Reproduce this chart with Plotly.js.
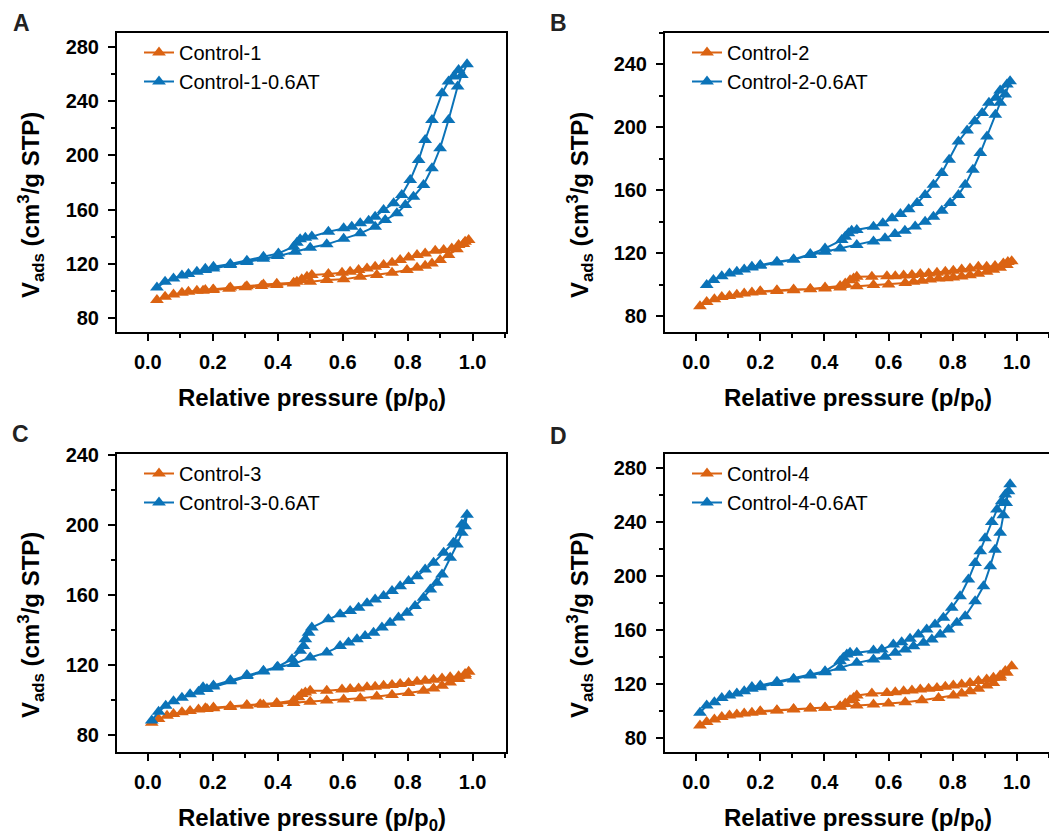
<!DOCTYPE html>
<html>
<head>
<meta charset="utf-8">
<script src="https://cdn.plot.ly/plotly-3.0.1.min.js"></script>
<style>
html,body{margin:0;padding:0;overflow:hidden;background:#fff;width:1049px;height:835px;}
#chart{width:1060px;height:835px;}
</style>
</head>
<body>
<div id="chart"></div>
<script>
// ---------- Data ----------
// Panel A
const ctrl1_p = [0.028,0.053,0.079,0.105,0.125,0.151,0.177,0.202,0.254,0.305,0.356,0.397,0.449,0.500,0.551,0.603,0.654,0.705,0.752,0.798,0.829,0.854,0.875,0.900,0.926,0.952,0.972,0.988,
  0.977,0.957,0.936,0.911,0.885,0.854,0.829,0.803,0.777,0.752,0.726,0.700,0.675,0.649,0.623,0.598,0.556,0.505,0.490,0.474,0.459,0.449,0.397,0.350,0.300,0.250,0.200,0.170];
const ctrl1_v = [93.1,95.5,97.3,98.5,99.2,100.0,100.5,101.0,102.4,103.4,104.7,105.2,105.9,106.6,107.9,108.4,110.3,111.6,113.3,115.3,117.0,118.5,120.2,122.7,126.4,130.6,134.5,137.5,
  136.2,133.8,131.3,130.1,129.6,127.6,126.4,124.6,122.7,120.7,119.0,117.7,116.5,115.3,114.0,113.3,112.3,111.6,110.3,108.4,106.6,105.4,104.2,103.5,102.5,101.5,100.5,100.0];
const ctrl1AT_p = [0.028,0.053,0.079,0.105,0.125,0.151,0.177,0.202,0.254,0.305,0.356,0.400,0.454,0.500,0.551,0.603,0.654,0.700,0.731,0.767,0.793,0.818,0.849,0.875,0.900,0.926,0.954,0.967,0.983,
  0.957,0.942,0.926,0.906,0.875,0.854,0.834,0.808,0.782,0.757,0.726,0.700,0.680,0.654,0.628,0.603,0.556,0.505,0.485,0.469,0.459,0.449,0.402,0.356,0.305,0.254,0.202,0.177];
const ctrl1AT_v = [102.4,106.6,109.1,111.3,112.3,114.0,115.3,116.5,119.0,121.2,123.6,125.6,128.8,131.8,134.3,138.4,142.4,147.3,152.3,157.2,163.4,169.5,178.2,190.5,205.3,226.2,250.9,259.5,267.4,
  263.2,258.3,254.6,246.0,226.2,211.4,196.7,181.8,170.8,164.6,159.7,154.7,151.8,149.8,147.3,146.1,143.6,140.0,139.2,138.0,135.5,132.5,127.6,125.1,122.2,119.7,117.7,116.3];

// Panel B
const ctrl2_p = [0.012,0.033,0.057,0.080,0.104,0.127,0.150,0.174,0.200,0.252,0.304,0.356,0.402,0.449,0.501,0.553,0.600,0.652,0.678,0.704,0.730,0.756,0.782,0.802,0.828,0.854,0.880,0.906,0.927,0.948,0.969,0.984,
  0.972,0.958,0.932,0.906,0.880,0.854,0.828,0.802,0.777,0.751,0.725,0.699,0.673,0.647,0.621,0.595,0.548,0.501,0.491,0.480,0.465,0.449,0.402,0.356,0.304,0.252,0.200];
const ctrl2_v = [86.4,89.1,90.8,92.3,92.9,93.6,94.4,95.1,95.5,96.1,96.6,97.2,97.6,98.3,99.1,99.8,100.2,101.2,101.9,102.5,103.4,104.0,104.2,104.6,105.3,106.1,107.0,108.3,109.5,110.8,112.6,115.0,
  114.5,113.6,111.9,111.4,111.4,110.4,109.7,108.9,108.3,107.6,107.2,106.8,106.3,105.9,105.5,105.5,105.1,105.1,104.0,102.9,100.8,99.3,98.3,97.4,97.0,96.6,95.9];
const ctrl2AT_p = [0.033,0.054,0.080,0.104,0.127,0.150,0.174,0.200,0.252,0.304,0.356,0.402,0.449,0.501,0.553,0.589,0.620,0.651,0.683,0.714,0.740,0.766,0.792,0.818,0.839,0.863,0.886,0.907,0.933,0.948,0.964,0.979,
  0.969,0.948,0.935,0.913,0.892,0.869,0.845,0.818,0.789,0.766,0.740,0.714,0.689,0.663,0.637,0.611,0.582,0.553,0.501,0.485,0.475,0.465,0.454,0.402,0.356,0.304,0.252,0.200,0.174];
const ctrl2AT_v = [99.8,103.0,105.5,107.2,108.3,109.7,111.0,112.1,114.2,116.1,118.9,121.0,123.1,125.3,127.5,129.5,132.3,134.4,137.0,140.1,143.3,147.1,151.9,157.1,163.5,173.1,183.7,194.3,208.1,215.6,220.9,229.4,
  227.2,223.5,218.8,215.6,209.2,203.9,198.1,191.1,179.5,171.0,163.5,157.1,151.9,148.0,145.0,142.3,139.1,136.9,134.8,134.4,132.7,130.6,128.4,123.1,119.5,116.1,114.6,112.5,111.4];

// Panel C
const ctrl3_p = [0.012,0.033,0.059,0.079,0.105,0.130,0.156,0.182,0.202,0.254,0.305,0.356,0.397,0.449,0.500,0.551,0.603,0.654,0.705,0.752,0.803,0.849,0.880,0.906,0.931,0.957,0.977,0.988,
  0.977,0.957,0.931,0.906,0.880,0.854,0.829,0.803,0.777,0.752,0.726,0.700,0.675,0.649,0.623,0.598,0.551,0.500,0.485,0.474,0.464,0.449,0.397,0.346,0.305,0.254,0.202,0.177];
const ctrl3_v = [86.7,88.9,90.8,91.8,92.7,93.5,94.3,94.6,95.0,95.8,96.5,97.1,97.5,98.1,98.8,99.4,100.0,100.7,101.7,102.6,103.8,105.1,106.4,107.9,109.8,111.7,113.6,115.9,
  114.6,113.3,112.7,112.1,111.4,110.8,110.2,109.5,108.9,108.3,107.9,107.4,107.0,106.4,106.0,105.7,105.1,105.1,104.1,103.2,101.3,99.4,98.1,97.3,96.9,96.2,95.4,95.0];
const ctrl3AT_p = [0.012,0.033,0.055,0.079,0.105,0.130,0.156,0.182,0.202,0.254,0.305,0.356,0.397,0.449,0.500,0.551,0.592,0.618,0.644,0.669,0.695,0.721,0.746,0.772,0.798,0.823,0.849,0.870,0.890,0.906,0.931,0.952,0.967,0.977,0.983,
  0.967,0.941,0.911,0.880,0.854,0.829,0.803,0.777,0.752,0.726,0.700,0.675,0.649,0.623,0.592,0.556,0.505,0.495,0.485,0.479,0.469,0.444,0.400,0.356,0.305,0.254,0.202,0.170];
const ctrl3AT_v = [88.0,93.0,96.5,99.0,101.0,103.0,104.5,106.0,107.5,110.5,113.5,116.0,118.4,120.3,124.1,127.0,130.7,132.6,134.5,136.4,138.3,141.2,144.0,146.9,149.7,153.5,158.3,163.0,166.9,171.6,181.1,188.7,195.4,199.1,205.8,
  200.1,189.7,184.0,178.3,174.4,170.6,167.8,164.9,162.1,159.2,157.3,155.1,152.6,150.7,148.8,145.9,141.2,138.3,134.5,130.7,127.9,123.1,118.8,116.5,114.0,111.0,108.0,107.0];

// Panel D
const ctrl4_p = [0.012,0.033,0.057,0.080,0.104,0.127,0.150,0.174,0.200,0.252,0.304,0.356,0.402,0.449,0.501,0.553,0.600,0.652,0.704,0.756,0.802,0.828,0.854,0.880,0.906,0.927,0.948,0.969,0.984,
  0.964,0.948,0.927,0.906,0.880,0.854,0.828,0.802,0.777,0.751,0.725,0.699,0.673,0.647,0.621,0.595,0.548,0.501,0.491,0.480,0.465,0.449,0.402,0.356,0.304,0.252,0.200];
const ctrl4_v = [89.6,92.1,94.0,95.8,97.0,97.7,98.5,99.0,99.7,100.7,101.4,102.2,102.7,103.4,104.4,105.1,105.9,106.8,108.3,110.0,111.8,113.3,115.0,116.7,119.2,121.1,124.8,128.5,133.4,
  129.8,126.6,124.8,123.6,122.4,121.1,119.9,119.2,118.2,117.4,116.7,116.2,115.5,115.0,114.2,113.7,113.3,111.8,110.0,108.3,105.9,103.9,102.9,102.4,101.7,100.9,100.2];
const ctrl4AT_p = [0.012,0.033,0.057,0.080,0.104,0.127,0.150,0.174,0.200,0.252,0.304,0.356,0.402,0.449,0.501,0.553,0.589,0.621,0.652,0.678,0.709,0.735,0.761,0.787,0.813,0.839,0.870,0.896,0.917,0.932,0.948,0.958,0.967,0.974,0.979,
  0.964,0.953,0.938,0.922,0.901,0.886,0.870,0.849,0.823,0.797,0.771,0.745,0.719,0.693,0.667,0.641,0.615,0.579,0.553,0.501,0.480,0.470,0.459,0.449,0.402,0.356,0.304,0.252,0.200,0.174];
const ctrl4AT_v = [99.0,104.4,106.8,110.0,111.8,113.3,115.0,116.7,117.9,121.1,123.6,126.6,129.0,132.2,135.9,138.4,140.5,143.3,145.8,148.2,150.7,153.1,156.8,160.5,165.5,170.4,181.4,192.5,207.3,219.6,232.0,245.0,254.0,262.8,268.0,
  260.3,255.4,249.2,240.0,228.0,218.4,209.8,197.5,185.1,176.6,169.2,164.2,160.5,156.8,153.7,151.2,149.4,145.8,145.0,143.3,143.3,142.1,139.6,137.1,129.7,127.3,124.1,121.9,119.2,118.0];

const seriesNames = ["Control-1","Control-1-0.6AT","Control-2","Control-2-0.6AT","Control-3","Control-3-0.6AT","Control-4","Control-4-0.6AT"];
const panelLetters = ["A","B","C","D"];
const xTickVals = [0,0.2,0.4,0.6,0.8,1.0];
const xTickText = ["0.0","0.2","0.4","0.6","0.8","1.0"];
const yTicksA = [80,120,160,200,240,280];
const yTicksB = [80,120,160,200,240];
const yTicksC = [80,120,160,200,240];
const yTicksD = [80,120,160,200,240,280];

// ---------- Styling / layout ----------
const ORANGE = "#DB6312";
const BLUE = "#0B73B8";
const W = 1060, H = 835;
const px = v => v / W;
const py = v => 1 - v / H;
const FONT = "Liberation Sans, Arial, Helvetica, sans-serif";

const data = [
  [ctrl1_p, ctrl1_v, ORANGE, 0], [ctrl1AT_p, ctrl1AT_v, BLUE, 0],
  [ctrl2_p, ctrl2_v, ORANGE, 1], [ctrl2AT_p, ctrl2AT_v, BLUE, 1],
  [ctrl3_p, ctrl3_v, ORANGE, 2], [ctrl3AT_p, ctrl3AT_v, BLUE, 2],
  [ctrl4_p, ctrl4_v, ORANGE, 3], [ctrl4AT_p, ctrl4AT_v, BLUE, 3]
];
const traces = data.map((d, i) => {
  const k = d[3];
  return {
    type: "scatter", mode: "lines+markers",
    x: d[0], y: d[1], name: seriesNames[i],
    xaxis: k === 0 ? "x" : "x" + (k + 1),
    yaxis: k === 0 ? "y" : "y" + (k + 1),
    legend: k === 0 ? "legend" : "legend" + (k + 1),
    line: {color: d[2], width: 2},
    marker: {symbol: "triangle-up", size: 12, color: d[2], line: {width: 0}},
    hoverinfo: "skip"
  };
});

function xAxis(dom, range) {
  return {
    domain: dom, range: range, showline: true, linecolor: "#000", linewidth: 2, mirror: true,
    ticks: "outside", ticklen: 7, tickwidth: 2, tickcolor: "#000",
    tickvals: xTickVals, ticktext: xTickText,
    minor: {ticks: "outside", ticklen: 4, tickwidth: 2, tickcolor: "#000", dtick: 0.1, tick0: 0},
    showgrid: false, zeroline: false, ticklabelstandoff: 4,
    tickfont: {family: FONT, size: 20, color: "#000", weight: 700}
  };
}
function yAxis(dom, range, ticks) {
  return {
    domain: dom, range: range, showline: true, linecolor: "#000", linewidth: 2, mirror: true,
    ticks: "outside", ticklen: 7, tickwidth: 2, tickcolor: "#000",
    tickvals: ticks, ticktext: ticks.map(String),
    minor: {ticks: "outside", ticklen: 4, tickwidth: 2, tickcolor: "#000", dtick: 20, tick0: 0},
    showgrid: false, zeroline: false, ticklabelstandoff: 5,
    tickfont: {family: FONT, size: 20, color: "#000", weight: 700}
  };
}
const xL = [px(117), px(506)], xR = [px(665), px(1050.5)];
const yT = [py(332), py(33)], yB = [py(752), py(454)];
const xRangeL = [-0.095, 1.103], xRangeR = [-0.097, 1.105];

function legendAt(x0, y0) {
  return {x: px(x0), y: py(y0), xanchor: "left", yanchor: "top", bgcolor: "rgba(0,0,0,0)",
    borderwidth: 0, font: {family: FONT, size: 20, color: "#000"}, itemwidth: 30, tracegroupgap: 0};
}

const annotations = [];
const letterPos = [[21, 23], [558, 23], [20, 434], [558, 436]];
panelLetters.forEach((L, i) => annotations.push({
  text: L, xref: "paper", yref: "paper", x: px(letterPos[i][0]), y: py(letterPos[i][1]),
  xanchor: "center", yanchor: "middle", showarrow: false,
  font: {family: FONT, size: 23, color: "#222", weight: 700}
}));
const yTitlePos = [[31, 205], [580, 205], [31, 625], [580, 625]];
yTitlePos.forEach(p => annotations.push({
  text: "V<sub>ads</sub> (cm<sup>3</sup>/g STP)", xref: "paper", yref: "paper",
  x: px(p[0]), y: py(p[1]), xanchor: "center", yanchor: "middle", textangle: -90, showarrow: false,
  font: {family: FONT, size: 24, color: "#000", weight: 700}
}));
const xTitlePos = [[311.5, 399], [857.5, 399], [311.5, 819], [857.5, 819]];
xTitlePos.forEach(p => annotations.push({
  text: "Relative pressure (p/p<sub>0</sub>)", xref: "paper", yref: "paper",
  x: px(p[0]), y: py(p[1]), xanchor: "center", yanchor: "middle", showarrow: false,
  font: {family: FONT, size: 24, color: "#000", weight: 700}
}));

const layout = {
  width: W, height: H, margin: {l: 0, r: 0, t: 0, b: 0},
  paper_bgcolor: "#fff", plot_bgcolor: "#fff",
  font: {family: FONT, color: "#000"},
  showlegend: true,
  xaxis: Object.assign(xAxis(xL, xRangeL), {anchor: "y"}),
  yaxis: Object.assign(yAxis(yT, [69.5, 290.5], yTicksA), {anchor: "x"}),
  xaxis2: Object.assign(xAxis(xR, xRangeR), {anchor: "y2"}),
  yaxis2: Object.assign(yAxis(yT, [70, 260], yTicksB), {anchor: "x2"}),
  xaxis3: Object.assign(xAxis(xL, xRangeL), {anchor: "y3"}),
  yaxis3: Object.assign(yAxis(yB, [70, 240.5], yTicksC), {anchor: "x3"}),
  xaxis4: Object.assign(xAxis(xR, xRangeR), {anchor: "y4"}),
  yaxis4: Object.assign(yAxis(yB, [70, 290.3], yTicksD), {anchor: "x4"}),
  legend: legendAt(139, 33),
  legend2: legendAt(687, 33),
  legend3: legendAt(139, 454),
  legend4: legendAt(687, 454),
  annotations: annotations
};

Plotly.newPlot("chart", traces, layout, {displayModeBar: false, staticPlot: true});
</script>
</body>
</html>
